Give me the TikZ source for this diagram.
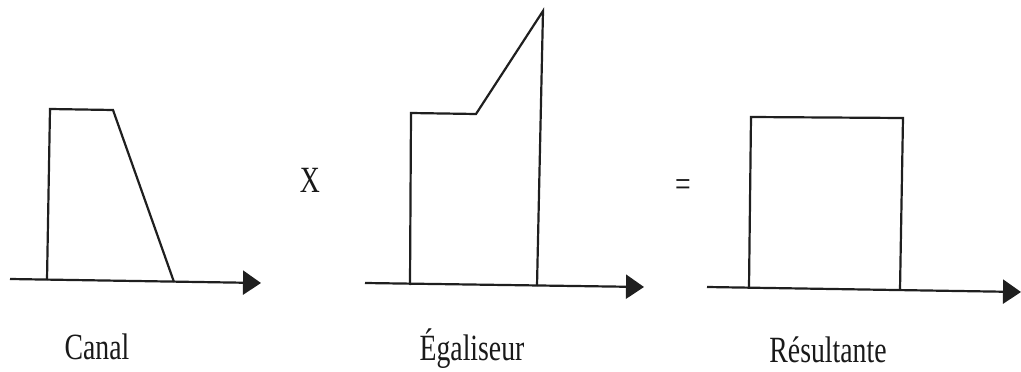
\documentclass[tikz,border=0pt]{standalone}
\usepackage{fontspec}
\setmainfont{Liberation Serif}
\usetikzlibrary{arrows.meta}
\tikzset{
  curve/.style={line width=2.2pt, draw=black!88, line join=miter},
  axis/.style={line width=2.2pt, draw=black!88, -{Triangle[length=18pt,width=24pt]}},
  lbl/.style={inner sep=0pt, anchor=base, font=\fontsize{37}{37}\selectfont, text=black!90},
}
\newcommand{\narrow}[1]{\scalebox{0.75}[1]{#1}}
\begin{document}
\begin{tikzpicture}[x=1pt,y=-1pt]
\useasboundingbox (0,0) rectangle (1021,372);
% panel 1: Canal
\draw[axis] (10,279) -- (261,283);
\draw[curve] (47,280) -- (50,109) -- (113,110) -- (174,282);
% panel 2: Egaliseur
\draw[axis] (365,283) -- (644,287);
\draw[curve] (410,285) -- (411,113) -- (476,114) -- (543,11) -- (537,286);
% panel 3: Resultante
\draw[axis] (707,287) -- (1021,292);
\draw[curve] (749,288) -- (751,117) -- (903,118) -- (900,290);
% operators
\node[lbl] (times) at (310,192) {\narrow{X}};
\node[lbl] (equals) at (683,196) {\narrow{=}};
% labels
\node[lbl] (canal) at (97,359) {\narrow{Canal}};
\node[lbl] (egal) at (472,360) {\narrow{Égaliseur}};
\node[lbl] (result) at (828,362) {\narrow{Résultante}};
\end{tikzpicture}
\end{document}
